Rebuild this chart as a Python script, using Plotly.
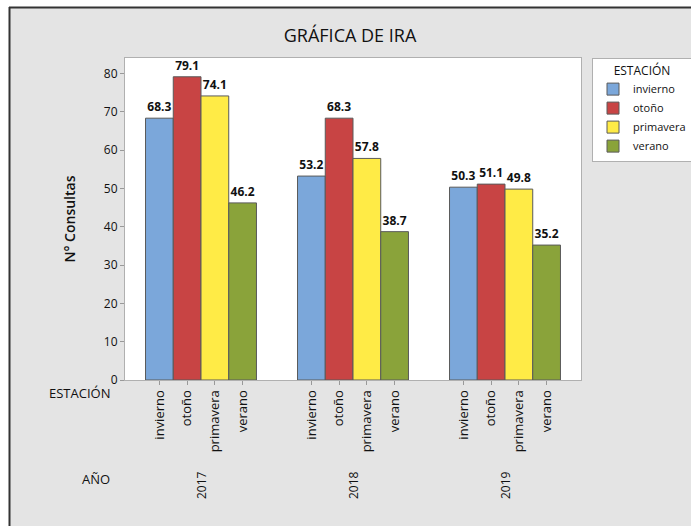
import plotly.graph_objects as go

years = ["2017", "2018", "2019"]
seasons = ["invierno", "otoño", "primavera", "verano"]
invierno = [68.3, 53.2, 50.3]
otono = [79.1, 68.3, 51.1]
primavera = [74.1, 57.8, 49.8]
verano = [46.2, 38.7, 35.2]
colors = ["#7BA7DA", "#C84444", "#FFEB46", "#8AA33A"]

values = [invierno, otono, primavera, verano]
bargap = 0.27

W, H = 691, 526
L, R, T, B = 125, 110, 58, 146
pw, ph = W - L - R, H - T - B


def px(x):
    return (x - L) / pw


def py(y):
    return (H - B - y) / ph


fig = go.Figure()
x_idx = list(range(len(years)))
for name, vals, col in zip(seasons, values, colors):
    fig.add_trace(go.Bar(
        x=x_idx, y=vals, name=name,
        marker=dict(color=col, line=dict(color="#5a5a5a", width=1)),
        text=[f"{v:.1f}" for v in vals], textposition="outside",
        textfont=dict(size=12, color="#111", family="Open Sans", weight="bold"),
        cliponaxis=False,
    ))

# tick positions at each bar centre
bw = (1 - bargap) / len(seasons)
tickvals, ticktext = [], []
for i in x_idx:
    for j, s in enumerate(seasons):
        tickvals.append(i + (j - (len(seasons) - 1) / 2) * bw)
        ticktext.append(s)

annotations = [
    dict(text=y, x=i, xref="x", y=py(485), yref="paper", yanchor="middle", showarrow=False,
         textangle=-90, font=dict(size=12, color="#111"))
    for i, y in zip(x_idx, years)
]
annotations += [
    dict(text="ESTACIÓN", x=px(112), y=py(393), xref="paper", yref="paper",
         xanchor="right", yanchor="middle", showarrow=False, font=dict(size=13, color="#111")),
    dict(text="AÑO", x=px(112), y=py(479), xref="paper", yref="paper",
         xanchor="right", yanchor="middle", showarrow=False, font=dict(size=13, color="#111")),
]

shapes = [
    dict(type="rect", xref="paper", yref="paper", x0=px(0), x1=px(W), y0=py(0), y1=py(7),
         fillcolor="white", line=dict(width=0), layer="below"),
    dict(type="rect", xref="paper", yref="paper", x0=px(0), x1=px(9), y0=py(0), y1=py(H),
         fillcolor="white", line=dict(width=0), layer="below"),
    dict(type="line", xref="paper", yref="paper", x0=px(9), x1=px(W), y0=py(7.5), y1=py(7.5),
         line=dict(color="#333", width=2)),
    dict(type="line", xref="paper", yref="paper", x0=px(9.5), x1=px(9.5), y0=py(7), y1=py(H),
         line=dict(color="#333", width=2)),
]

fig.update_layout(
    width=W, height=H,
    margin=dict(l=L, r=R, t=T, b=B, autoexpand=False),
    paper_bgcolor="#E4E4E4", plot_bgcolor="white",
    font=dict(family="Open Sans", color="#111"),
    title=dict(text="GRÁFICA DE IRA", x=px(356), xanchor="center", y=1 - 36 / H, yanchor="middle",
               font=dict(size=18, color="#111")),
    barmode="group", bargap=bargap, bargroupgap=0,
    xaxis=dict(range=[-0.5, 2.5], tickmode="array", tickvals=tickvals, ticktext=ticktext,
               tickangle=-90, ticks="outside", ticklen=4, tickcolor="#999",
               tickfont=dict(size=13), showline=True, linecolor="#B0B0B0", mirror=True,
               showgrid=False, zeroline=False, automargin=False),
    yaxis=dict(range=[0, 84], dtick=10, ticks="outside", ticklen=4, tickcolor="#999",
               tickfont=dict(size=12), showline=True, linecolor="#B0B0B0", mirror=True,
               showgrid=False, zeroline=False, automargin=False,
               title=dict(text="N° Consultas", font=dict(size=14, weight=600), standoff=24)),
    legend=dict(title=dict(text="ESTACIÓN", side="top center", font=dict(size=12)),
                x=px(592), xanchor="left", y=1, yanchor="top",
                bgcolor="white", bordercolor="#B0B0B0", borderwidth=1,
                font=dict(size=11), itemwidth=30, tracegroupgap=0),
    annotations=annotations, shapes=shapes,
)

fig.write_html("out.html", config={"displayModeBar": False},
               post_script="document.body.style.margin='0';")
